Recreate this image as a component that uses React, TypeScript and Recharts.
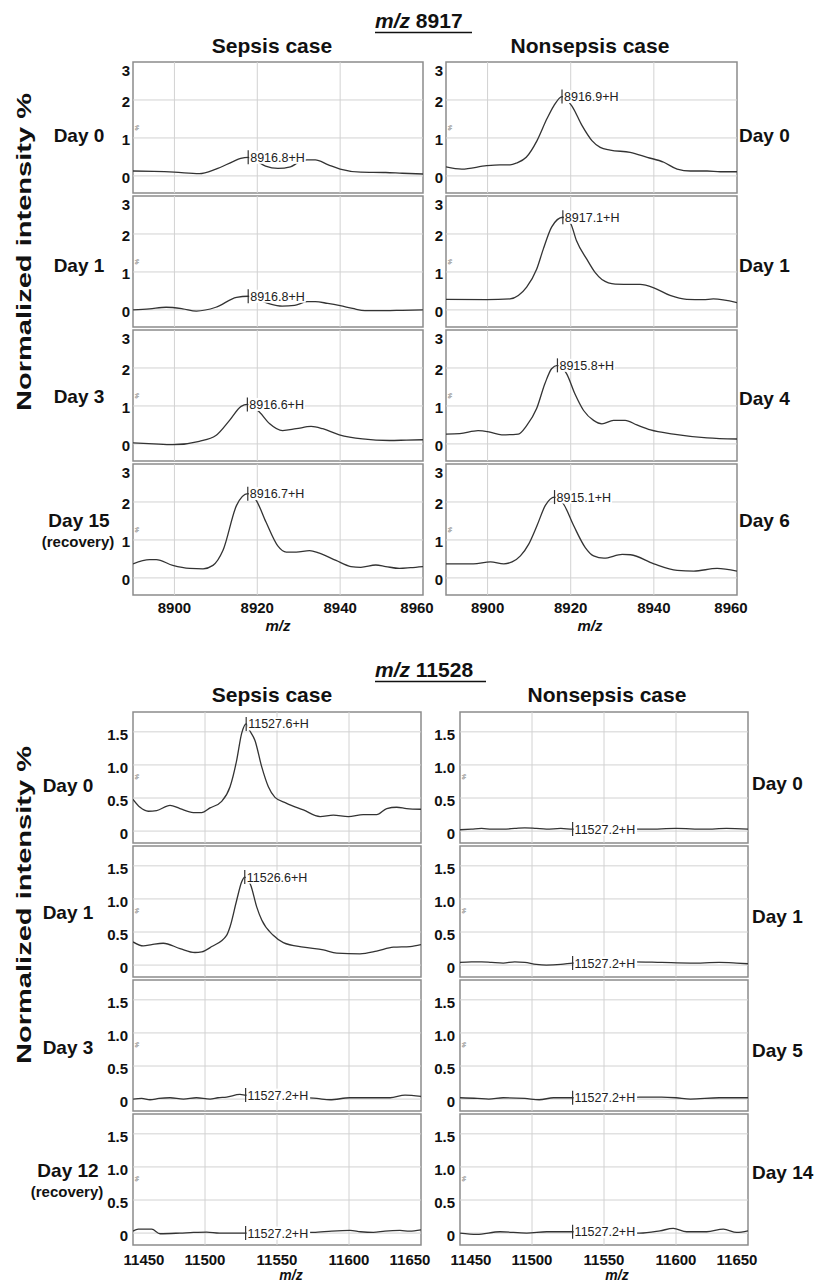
import React from "react";
import {
  LineChart,
  Line,
  XAxis,
  YAxis,
  ReferenceLine,
  ReferenceArea,
  ReferenceDot,
} from "recharts";

type Pair = [number, number];

// ---- m/z 8917 window ----
const MZ8917_X_TICKS = [8900, 8920, 8940, 8960];
const MZ8917_Y_TICKS = [0, 1, 2, 3];
const MZ8917_X_DOMAIN: [number, number] = [8890, 8960];
const MZ8917_Y_DOMAIN: [number, number] = [-0.45, 3];

const SEPSIS_8917_DAYS = ["Day 0", "Day 1", "Day 3", "Day 15"];
const NONSEPSIS_8917_DAYS = ["Day 0", "Day 1", "Day 4", "Day 6"];
const SEPSIS_8917_PEAKS = [8916.8, 8916.8, 8916.6, 8916.7];
const NONSEPSIS_8917_PEAKS = [8916.9, 8917.1, 8915.8, 8915.1];

const SEPSIS_8917_DAY0: Pair[] = [
  [8890, 0.13], [8895, 0.12], [8900, 0.1], [8906, 0.06], [8910, 0.18], [8914, 0.37],
  [8916, 0.46], [8917.8, 0.49], [8920, 0.38], [8922, 0.26], [8925, 0.2], [8928, 0.24],
  [8930, 0.36], [8932, 0.42], [8934, 0.42], [8937, 0.3], [8940, 0.18], [8945, 0.1],
  [8951, 0.09], [8955, 0.07], [8960, 0.05],
];
const SEPSIS_8917_DAY1: Pair[] = [
  [8890, 0.0], [8894, 0.03], [8898, 0.07], [8902, 0.03], [8905.3, -0.03], [8910, 0.07],
  [8915, 0.33], [8917.8, 0.36], [8920, 0.28], [8923, 0.16], [8926, 0.1], [8929, 0.12],
  [8931, 0.19], [8932, 0.22], [8934, 0.22], [8937, 0.17], [8940, 0.11], [8943, 0.04],
  [8946, -0.02], [8951, -0.02], [8955, -0.01], [8960, 0.0],
];
const SEPSIS_8917_DAY3: Pair[] = [
  [8890, 0.03], [8895, 0.0], [8899.6, -0.02], [8906, 0.07], [8910, 0.22], [8913.3, 0.62],
  [8916.1, 0.99], [8917.6, 1.04], [8920.5, 0.84], [8923, 0.53], [8926.1, 0.35],
  [8929.4, 0.4], [8933, 0.46], [8935.8, 0.4], [8939.8, 0.24], [8945.4, 0.13],
  [8951.9, 0.09], [8956, 0.1], [8960, 0.11],
];
const SEPSIS_8917_DAY15: Pair[] = [
  [8890, 0.37], [8894, 0.48], [8895.6, 0.48], [8899.6, 0.33], [8903.7, 0.25], [8906.9, 0.24],
  [8909.3, 0.33], [8911.7, 0.72], [8915, 1.91], [8917.7, 2.22], [8919.7, 2.05],
  [8922.1, 1.47], [8924.9, 0.85], [8927, 0.68], [8929.4, 0.68], [8932.6, 0.72],
  [8935, 0.65], [8939, 0.46], [8942.6, 0.3], [8945, 0.28], [8948.6, 0.34], [8951, 0.3],
  [8954.3, 0.25], [8957, 0.27], [8960, 0.3],
];
const NONSEPSIS_8917_DAY0: Pair[] = [
  [8890, 0.24], [8893.8, 0.18], [8899.8, 0.27], [8903, 0.29], [8905.4, 0.29], [8907, 0.34],
  [8909.3, 0.49], [8911.9, 0.93], [8914.3, 1.51], [8915.9, 1.84], [8917.9, 2.09],
  [8920.3, 1.84], [8922.7, 1.33], [8925.1, 0.93], [8927.1, 0.75], [8929.5, 0.68],
  [8934.3, 0.62], [8938.4, 0.49], [8942.4, 0.36], [8945.6, 0.18], [8948.8, 0.13],
  [8952.8, 0.13], [8956, 0.11], [8960, 0.11],
];
const NONSEPSIS_8917_DAY1: Pair[] = [
  [8890, 0.28], [8899.8, 0.27], [8905.4, 0.29], [8907.4, 0.38], [8909.4, 0.6], [8911.8, 1.07],
  [8913.4, 1.6], [8915.4, 2.18], [8918.1, 2.44], [8920, 2.27], [8921.4, 1.82],
  [8923.9, 1.33], [8925.9, 0.98], [8927.5, 0.8], [8930.7, 0.68], [8936.7, 0.67],
  [8940, 0.58], [8943.9, 0.38], [8947.9, 0.28], [8951.9, 0.27], [8954.3, 0.29], [8960, 0.19],
];
const NONSEPSIS_8917_DAY4: Pair[] = [
  [8890, 0.26], [8893.3, 0.27], [8897.7, 0.35], [8900.6, 0.31], [8903.4, 0.24], [8907.4, 0.26],
  [8909.4, 0.48], [8911.8, 0.93], [8913.8, 1.59], [8915.4, 1.98], [8916.8, 2.07],
  [8919, 1.85], [8921, 1.32], [8923.1, 0.88], [8925.5, 0.62], [8927.5, 0.53],
  [8930.3, 0.62], [8933.1, 0.62], [8935.9, 0.5], [8939.2, 0.37], [8944.7, 0.26],
  [8952.8, 0.16], [8960, 0.13],
];
const NONSEPSIS_8917_DAY6: Pair[] = [
  [8890, 0.37], [8896.6, 0.37], [8900.7, 0.42], [8903.9, 0.37], [8905.9, 0.42], [8907.9, 0.58],
  [8909.9, 0.89], [8911.9, 1.38], [8913.9, 1.91], [8916.1, 2.13], [8918.3, 1.94],
  [8920.7, 1.38], [8923.5, 0.8], [8925.5, 0.58], [8928, 0.52], [8932.4, 0.62],
  [8934.4, 0.61], [8940, 0.37], [8945.6, 0.2], [8949.6, 0.18], [8955.2, 0.25], [8960, 0.18],
];

// ---- m/z 11528 window ----
const MZ11528_X_TICKS = [11450, 11500, 11550, 11600, 11650];
const MZ11528_Y_TICKS = [0, 0.5, 1.0, 1.5];
const MZ11528_X_DOMAIN: [number, number] = [11450, 11650];
const MZ11528_Y_DOMAIN: [number, number] = [-0.18, 1.8];

const SEPSIS_11528_DAYS = ["Day 0", "Day 1", "Day 3", "Day 12"];
const NONSEPSIS_11528_DAYS = ["Day 0", "Day 1", "Day 5", "Day 14"];
const SEPSIS_11528_PEAKS = [11527.6, 11526.6, 11527.2, 11527.2];
const NONSEPSIS_11528_PEAKS = [11527.2, 11527.2, 11527.2, 11527.2];

const SEPSIS_11528_DAY0: Pair[] = [
  [11450, 0.48], [11454.9, 0.36], [11460.6, 0.3], [11466.4, 0.31], [11475.7, 0.39],
  [11482.6, 0.34], [11491.9, 0.28], [11497.7, 0.28], [11503.5, 0.35], [11511.6, 0.45],
  [11517.4, 0.67], [11522, 1.07], [11525.5, 1.48], [11528.6, 1.62], [11531, 1.52],
  [11534.7, 1.37], [11539.4, 0.97], [11544, 0.67], [11548.6, 0.51], [11556.7, 0.42],
  [11568.3, 0.32], [11579.9, 0.22], [11589.1, 0.24], [11599.5, 0.22], [11609.9, 0.25],
  [11619.2, 0.25], [11626.2, 0.34], [11633.1, 0.36], [11640, 0.34], [11650, 0.33],
];
const SEPSIS_11528_DAY1: Pair[] = [
  [11450, 0.35], [11457.2, 0.29], [11463, 0.31], [11471, 0.33], [11482.6, 0.25], [11493, 0.19],
  [11497.7, 0.2], [11504.7, 0.28], [11515, 0.45], [11517.4, 0.58], [11522, 0.98],
  [11525.5, 1.26], [11527.6, 1.33], [11531.7, 1.21], [11535.9, 0.88], [11539.4, 0.68],
  [11547.4, 0.45], [11554.4, 0.34], [11568.3, 0.27], [11582.2, 0.23], [11591.5, 0.18],
  [11607.6, 0.17], [11619.2, 0.21], [11630.8, 0.27], [11642.4, 0.28], [11650, 0.31],
];
const SEPSIS_11528_DAY3: Pair[] = [
  [11450, 0.0], [11456, 0.01], [11461.8, -0.01], [11468, 0.01], [11475.7, 0.02], [11485, 0.0],
  [11494, 0.02], [11503.5, 0.0], [11509, 0.02], [11515, 0.03], [11524.3, 0.07],
  [11528.2, 0.06], [11540, 0.05], [11560, 0.03], [11577.6, 0.01], [11586.8, -0.01],
  [11600.7, 0.02], [11614.6, 0.02], [11628.5, 0.02], [11638.9, 0.06], [11650, 0.04],
];
const SEPSIS_11528_DAY12: Pair[] = [
  [11450, 0.03], [11453.7, 0.06], [11463, 0.06], [11468.8, -0.01], [11482.6, 0.0],
  [11492, 0.01], [11501.2, 0.015], [11510, 0.0], [11519.7, 0.0], [11528.2, 0.0],
  [11550, 0.01], [11575.2, 0.01], [11588, 0.03], [11600.7, 0.04], [11608, 0.02],
  [11616.9, 0.01], [11625, 0.03], [11635.4, 0.04], [11642, 0.03], [11650, 0.05],
];
const NONSEPSIS_11528_DAY0: Pair[] = [
  [11450, 0.02], [11458, 0.03], [11465, 0.04], [11472, 0.03], [11480, 0.03], [11488, 0.04],
  [11495, 0.05], [11503, 0.04], [11510, 0.03], [11520, 0.04], [11528.2, 0.03],
  [11545, 0.03], [11560, 0.04], [11580, 0.03], [11600, 0.04], [11620, 0.03],
  [11635, 0.04], [11650, 0.03],
];
const NONSEPSIS_11528_DAY1: Pair[] = [
  [11450, 0.04], [11458, 0.05], [11465, 0.05], [11472, 0.04], [11480, 0.03], [11488, 0.05],
  [11495, 0.04], [11503, 0.01], [11510, 0.0], [11520, 0.01], [11528.2, 0.03],
  [11545, 0.05], [11570, 0.05], [11590, 0.04], [11610, 0.03], [11630, 0.04],
  [11642, 0.03], [11650, 0.02],
];
const NONSEPSIS_11528_DAY5: Pair[] = [
  [11450, 0.02], [11462, 0.01], [11470, 0.0], [11480, 0.02], [11495, 0.01], [11505, -0.01],
  [11515, 0.02], [11528.2, 0.02], [11560, 0.02], [11575, 0.03], [11590, 0.03],
  [11600, 0.02], [11610, 0.0], [11630, 0.02], [11650, 0.02],
];
const NONSEPSIS_11528_DAY14: Pair[] = [
  [11450, 0.0], [11461.6, -0.02], [11477.8, 0.02], [11496.3, 0.0], [11510.2, 0.02],
  [11528.2, 0.02], [11550, 0.01], [11575, 0.0], [11588.9, 0.035], [11598.1, 0.07],
  [11607.4, 0.02], [11621.3, 0.02], [11632.9, 0.06], [11642.2, 0.01], [11650, 0.035],
];

const SEPSIS_8917 = [SEPSIS_8917_DAY0, SEPSIS_8917_DAY1, SEPSIS_8917_DAY3, SEPSIS_8917_DAY15];
const NONSEPSIS_8917 = [NONSEPSIS_8917_DAY0, NONSEPSIS_8917_DAY1, NONSEPSIS_8917_DAY4, NONSEPSIS_8917_DAY6];
const SEPSIS_11528 = [SEPSIS_11528_DAY0, SEPSIS_11528_DAY1, SEPSIS_11528_DAY3, SEPSIS_11528_DAY12];
const NONSEPSIS_11528 = [NONSEPSIS_11528_DAY0, NONSEPSIS_11528_DAY1, NONSEPSIS_11528_DAY5, NONSEPSIS_11528_DAY14];

// ---- layout ----
const FONT = "'Liberation Sans', Arial, Helvetica, sans-serif";
const PROTON = 1.007;
const PANEL_H = 131;
const YW = 44;
const PAD = 2;
const TOP_ROWS = [62, 196, 330, 464];
const BOT_ROWS = [712, 846, 980, 1114];
const PEAK_FONT = 12.5;

const CHAR_W: Record<string, number> = { ".": 0.278, "+": 0.584, H: 0.722 };
const textW = (s: string, size: number) =>
  s.split("").reduce((a, c) => a + (CHAR_W[c] ?? 0.556), 0) * size;

function interp(rows: Pair[], x: number) {
  for (let i = 1; i < rows.length; i++) {
    const [x0, y0] = rows[i - 1];
    const [x1, y1] = rows[i];
    if (x >= x0 && x <= x1) return y0 + ((y1 - y0) * (x - x0)) / (x1 - x0 || 1);
  }
  return rows[rows.length - 1][1];
}

function peakShape(label: string) {
  return (p: any) => {
    const { cx, cy } = p;
    const tw = textW(label, PEAK_FONT);
    return (
      <g>
        <rect x={cx + 1} y={cy - 6.5} width={tw + 2} height={13} fill="#fff" />
        <line x1={cx} x2={cx} y1={cy - 7} y2={cy + 7} stroke="#333" strokeWidth={1.2} />
        <text x={cx + 2} y={cy + 4.5} fontSize={PEAK_FONT} fontFamily={FONT} fill="#222">
          {label}
        </text>
      </g>
    );
  };
}

interface PanelProps {
  left: number;
  top: number;
  w: number;
  rows: Pair[];
  xDomain: [number, number];
  yDomain: [number, number];
  xTicks: number[];
  yTicks: number[];
  small: boolean;
  showX: boolean;
  peak: number;
}

function Panel({ left, top, w, rows, xDomain, yDomain, xTicks, yTicks, small, showX, peak }: PanelProps) {
  const data = rows.map(([mz, v]) => ({ mz, v }));
  const xh = 28;
  const fmt = (v: number) => (small ? (v === 0 ? "0" : v.toFixed(1)) : String(v));
  const peakX = peak + PROTON;
  const label = `${peak.toFixed(1)}+H`;
  const tickStyle = { fontFamily: FONT, fontSize: 15, fontWeight: 700, fill: "#111" };
  // edge labels are nudged inward, as in the source figure
  const xShift = (v: number) =>
    v === xDomain[0] ? 11 : v === xDomain[1] ? (small ? -11 : -6) : 0;
  return (
    <div style={{ position: "absolute", left: left - YW, top: top - PAD }}>
      <LineChart
        width={YW + w + 30}
        height={PANEL_H + PAD + (showX ? xh : PAD)}
        data={data}
        margin={{ top: PAD, right: 30, bottom: showX ? 0 : PAD, left: 0 }}
      >
        <XAxis
          dataKey="mz"
          type="number"
          domain={xDomain}
          ticks={xTicks}
          interval={0}
          allowDataOverflow
          hide={!showX}
          height={xh}
          axisLine={false}
          tickLine={false}
          tickSize={0}
          tickMargin={0}
          tick={(t: any) => (
            <text
              x={t.x + xShift(t.payload.value)}
              y={t.y + (small ? 20 : 18)}
              textAnchor="middle"
              style={tickStyle}
            >
              {t.payload.value}
            </text>
          )}
        />
        <YAxis
          type="number"
          domain={yDomain}
          ticks={yTicks}
          interval={0}
          allowDataOverflow
          width={YW}
          axisLine={false}
          tickLine={false}
          tickSize={0}
          tickMargin={0}
          tick={(t: any) => (
            <text
              x={t.x - (small ? 5 : 3)}
              y={t.y + (t.payload.value === yDomain[1] ? 14 : small ? 8 : 7.5)}
              textAnchor="end"
              style={tickStyle}
            >
              {fmt(t.payload.value)}
            </text>
          )}
        />
        {xTicks
          .filter((t) => t > xDomain[0] && t < xDomain[1])
          .map((t) => (
            <ReferenceLine key={`gx${t}`} x={t} stroke="#d2d2d2" strokeWidth={1} />
          ))}
        {yTicks
          .filter((t) => t > yDomain[0] && t < yDomain[1])
          .map((t) => (
            <ReferenceLine key={`gy${t}`} y={t} stroke="#d2d2d2" strokeWidth={1} />
          ))}
        <Line
          dataKey="v"
          type="monotone"
          stroke="#333"
          strokeWidth={1.3}
          dot={false}
          isAnimationActive={false}
        />
        <ReferenceDot x={peakX} y={interp(rows, peakX)} r={0} shape={peakShape(label)} />
        <ReferenceArea
          x1={xDomain[0]}
          x2={xDomain[1]}
          y1={yDomain[0]}
          y2={yDomain[1]}
          fill="none"
          stroke="#8c8c8c"
          strokeWidth={1.5}
        />
      </LineChart>
    </div>
  );
}

const BOLD = { fontFamily: FONT, fontWeight: 700, fill: "#111" } as const;

function Overlay() {
  const dayL8917 = [142, 272, 403, 527];
  const dayR8917 = [142, 272, 405, 527];
  const dayL11528 = [792, 919, 1054, 1177];
  const dayR11528 = [790, 923, 1057, 1179];
  const glyph = (x: number, y: number, k: string) => (
    <text key={k} x={x} y={y} fontSize={6} fontFamily={FONT} fill="#555" transform={`rotate(90 ${x} ${y})`}>
      %
    </text>
  );
  return (
    <svg width={818} height={1284} style={{ position: "absolute", left: 0, top: 0, pointerEvents: "none" }}>
      {/* m/z 8917 block */}
      <text x={375} y={28} fontSize={21} style={BOLD}>
        <tspan fontStyle="italic">m/z</tspan> 8917
      </text>
      <line x1={375} x2={472} y1={32.5} y2={32.5} stroke="#111" strokeWidth={1.6} />
      <text x={272} y={53} fontSize={21} textAnchor="middle" style={BOLD}>Sepsis case</text>
      <text x={590} y={53} fontSize={21} textAnchor="middle" style={BOLD}>Nonsepsis case</text>
      {SEPSIS_8917_DAYS.map((d, i) => (
        <text key={`l8${i}`} x={79} y={dayL8917[i]} fontSize={19} textAnchor="middle" style={BOLD}>{d}</text>
      ))}
      <text x={78} y={547} fontSize={15} textAnchor="middle" style={BOLD}>(recovery)</text>
      {NONSEPSIS_8917_DAYS.map((d, i) => (
        <text key={`r8${i}`} x={739} y={dayR8917[i]} fontSize={19} style={BOLD}>{d}</text>
      ))}
      <text x={278} y={631} fontSize={15} textAnchor="middle" style={BOLD} fontStyle="italic">m/z</text>
      <text x={590} y={631} fontSize={15} textAnchor="middle" style={BOLD} fontStyle="italic">m/z</text>
      <text x={0} y={0} fontSize={21} textAnchor="middle" style={BOLD} textLength={318}
        lengthAdjust="spacingAndGlyphs" transform="translate(31 252) rotate(-90)">
        Normalized intensity %
      </text>

      {/* m/z 11528 block */}
      <text x={375} y={677} fontSize={21} style={BOLD}>
        <tspan fontStyle="italic">m/z</tspan> 11528
      </text>
      <line x1={375} x2={486} y1={681.5} y2={681.5} stroke="#111" strokeWidth={1.6} />
      <text x={272} y={702} fontSize={21} textAnchor="middle" style={BOLD}>Sepsis case</text>
      <text x={607} y={702} fontSize={21} textAnchor="middle" style={BOLD}>Nonsepsis case</text>
      {SEPSIS_11528_DAYS.map((d, i) => (
        <text key={`l11${i}`} x={68} y={dayL11528[i]} fontSize={19} textAnchor="middle" style={BOLD}>{d}</text>
      ))}
      <text x={67} y={1197} fontSize={15} textAnchor="middle" style={BOLD}>(recovery)</text>
      {NONSEPSIS_11528_DAYS.map((d, i) => (
        <text key={`r11${i}`} x={752} y={dayR11528[i]} fontSize={19} style={BOLD}>{d}</text>
      ))}
      <text x={291} y={1280} fontSize={14} textAnchor="middle" style={BOLD} fontStyle="italic">m/z</text>
      <text x={617} y={1280} fontSize={14} textAnchor="middle" style={BOLD} fontStyle="italic">m/z</text>
      <text x={0} y={0} fontSize={21} textAnchor="middle" style={BOLD} textLength={318}
        lengthAdjust="spacingAndGlyphs" transform="translate(31 905) rotate(-90)">
        Normalized intensity %
      </text>

      {TOP_ROWS.map((r, i) => glyph(135, r + 63, `ga${i}`))}
      {TOP_ROWS.map((r, i) => glyph(448, r + 63, `gb${i}`))}
      {BOT_ROWS.map((r, i) => glyph(135, r + 62, `gc${i}`))}
      {BOT_ROWS.map((r, i) => glyph(462, r + 62, `gd${i}`))}
    </svg>
  );
}

export default function App() {
  return (
    <div style={{ position: "absolute", left: 0, top: 0, width: 818, height: 1284, background: "#fff" }}>
      {SEPSIS_8917.map((rows, i) => (
        <Panel key={`s8${i}`} left={133} top={TOP_ROWS[i]} w={290} rows={rows}
          xDomain={MZ8917_X_DOMAIN} yDomain={MZ8917_Y_DOMAIN} xTicks={MZ8917_X_TICKS}
          yTicks={MZ8917_Y_TICKS} small={false} showX={i === 3} peak={SEPSIS_8917_PEAKS[i]} />
      ))}
      {NONSEPSIS_8917.map((rows, i) => (
        <Panel key={`n8${i}`} left={446} top={TOP_ROWS[i]} w={291} rows={rows}
          xDomain={MZ8917_X_DOMAIN} yDomain={MZ8917_Y_DOMAIN} xTicks={MZ8917_X_TICKS}
          yTicks={MZ8917_Y_TICKS} small={false} showX={i === 3} peak={NONSEPSIS_8917_PEAKS[i]} />
      ))}
      {SEPSIS_11528.map((rows, i) => (
        <Panel key={`s11${i}`} left={133} top={BOT_ROWS[i]} w={288} rows={rows}
          xDomain={MZ11528_X_DOMAIN} yDomain={MZ11528_Y_DOMAIN} xTicks={MZ11528_X_TICKS}
          yTicks={MZ11528_Y_TICKS} small showX={i === 3} peak={SEPSIS_11528_PEAKS[i]} />
      ))}
      {NONSEPSIS_11528.map((rows, i) => (
        <Panel key={`n11${i}`} left={460} top={BOT_ROWS[i]} w={288} rows={rows}
          xDomain={MZ11528_X_DOMAIN} yDomain={MZ11528_Y_DOMAIN} xTicks={MZ11528_X_TICKS}
          yTicks={MZ11528_Y_TICKS} small showX={i === 3} peak={NONSEPSIS_11528_PEAKS[i]} />
      ))}
      <Overlay />
    </div>
  );
}
